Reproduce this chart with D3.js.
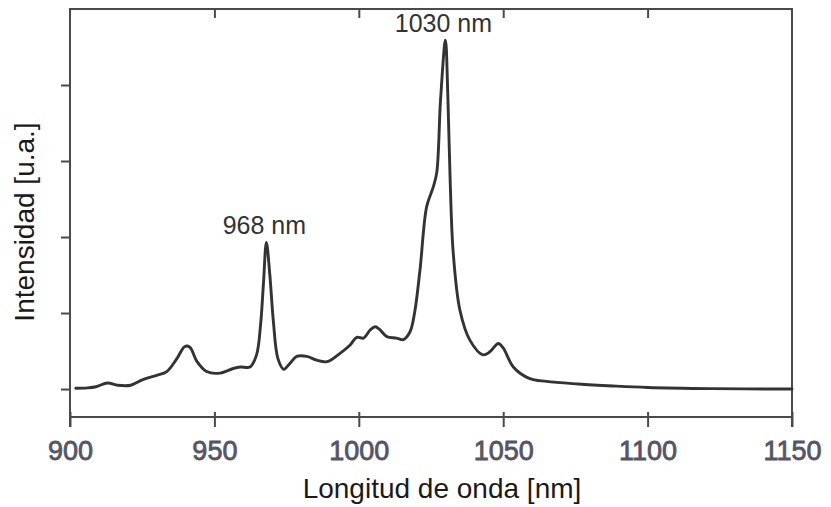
<!DOCTYPE html>
<html>
<head>
<meta charset="utf-8">
<script src="https://cdn.jsdelivr.net/npm/d3@7"></script>
<style>
  html, body { margin: 0; padding: 0; background: #fff; }
  svg { display: block; font-family: "Liberation Sans", Arial, sans-serif; }
</style>
</head>
<body>
<svg id="chart" width="831" height="507"></svg>
<script>
// Emission spectrum: wavelength (nm) and relative intensity (a.u.)
const wavelength = [
  902, 906, 909, 913, 916.5, 921, 925, 930, 933.5, 937, 939.8, 941.5, 944, 947.3,
  952, 956.5, 959, 962.3, 964.6, 966, 967, 968, 969.2, 970.4, 972, 974, 976.2,
  978.5, 982, 985.4, 989, 993.5, 997, 999.3, 1001.6, 1004, 1005.7, 1007.3, 1009.7,
  1013, 1015.4, 1017.7, 1019.3, 1021.2, 1023.5, 1025.8, 1027, 1028.3, 1030, 1030.8,
  1031.7, 1032.7, 1035, 1038.5, 1043, 1045.4, 1048.3, 1050, 1053.5, 1059, 1065,
  1076, 1088, 1100, 1122, 1150
];
const intensity = [
  0.01, 0.015, 0.03, 0.08, 0.05, 0.05, 0.12, 0.18, 0.23, 0.40, 0.56, 0.55, 0.36, 0.23,
  0.21, 0.27, 0.29, 0.29, 0.45, 0.85, 1.40, 1.93, 1.50, 0.90, 0.40, 0.26, 0.34,
  0.43, 0.43, 0.38, 0.36, 0.47, 0.58, 0.68, 0.67, 0.78, 0.82, 0.78, 0.69,
  0.67, 0.65, 0.75, 1.00, 1.57, 2.40, 2.66, 2.85, 3.80, 4.59, 3.90,
  2.66, 1.79, 1.04, 0.64, 0.45, 0.49, 0.60, 0.54, 0.29, 0.14, 0.10,
  0.066, 0.04, 0.02, 0.005, 0.0
];

// Labelled peaks
const peakNm = [968, 1030];
const peakLabels = ["968 nm", "1030 nm"];

// Axis ticks
const xTicks = [900, 950, 1000, 1050, 1100, 1150];
const yTicks = [0, 1, 2, 3, 4];

const xTitle = "Longitud de onda [nm]";
const yTitle = "Intensidad [u.a.]";

const svg = d3.select("#chart");
const plotLeft = 70, plotRight = 792, plotTop = 9, plotBottom = 417;

const x = d3.scaleLinear().domain([900, 1150]).range([plotLeft, plotRight]);
const y = d3.scaleLinear().domain([-0.368, 5]).range([plotBottom, plotTop]);

const frameColor = "#4a4a4a";
const tickLabelColor = "#555566";

// Bottom axis: ticks cross the axis line
const gx = svg.append("g")
  .attr("transform", `translate(0,${plotBottom})`)
  .call(d3.axisBottom(x).tickValues(xTicks).tickFormat(d3.format("d"))
    .tickSize(10).tickPadding(14).tickSizeOuter(0));
gx.select(".domain").remove();
gx.selectAll(".tick line")
  .attr("y1", -5).attr("y2", 10)
  .attr("stroke", frameColor).attr("stroke-width", 2);
gx.selectAll(".tick text")
  .attr("fill", tickLabelColor)
  .attr("font-size", 27)
  .attr("stroke", tickLabelColor).attr("stroke-width", 0.8)
  .attr("font-family", "Liberation Sans, Arial, sans-serif");

// Top axis: inward ticks, no labels
const gt = svg.append("g")
  .attr("transform", `translate(0,${plotTop})`)
  .call(d3.axisBottom(x).tickValues(xTicks.slice(1, -1)).tickSize(9).tickFormat(""));
gt.select(".domain").remove();
gt.selectAll(".tick line").attr("stroke", frameColor).attr("stroke-width", 2);

// Left axis: outward ticks, no labels
const gy = svg.append("g")
  .attr("transform", `translate(${plotLeft},0)`)
  .call(d3.axisLeft(y).tickValues(yTicks).tickSize(9).tickFormat(""));
gy.select(".domain").remove();
gy.selectAll(".tick line").attr("stroke", frameColor).attr("stroke-width", 2);

// Frame
svg.append("rect")
  .attr("x", plotLeft).attr("y", plotTop)
  .attr("width", plotRight - plotLeft).attr("height", plotBottom - plotTop)
  .attr("fill", "none").attr("stroke", frameColor).attr("stroke-width", 2);
// Frame sides run a little below the bottom axis line
[plotLeft, plotRight].forEach(px => {
  svg.append("line")
    .attr("x1", px).attr("x2", px)
    .attr("y1", plotBottom).attr("y2", plotBottom + 10)
    .attr("stroke", frameColor).attr("stroke-width", 2);
});

// Spectrum line
const pts = wavelength.map((w, i) => [w, intensity[i]]);
const line = d3.line()
  .x(d => x(d[0]))
  .y(d => y(d[1]))
  .curve(d3.curveCatmullRom.alpha(0.5));

svg.append("path")
  .datum(pts)
  .attr("d", line)
  .attr("fill", "none")
  .attr("stroke", "#333")
  .attr("stroke-width", 2.9)
  .attr("stroke-linejoin", "round")
  .attr("stroke-linecap", "round");

// Peak labels
peakNm.forEach((nm, i) => {
  const v = intensity[wavelength.indexOf(nm)];
  svg.append("text")
    .attr("x", x(nm) - 2)
    .attr("y", y(v) - 8)
    .attr("text-anchor", "middle")
    .attr("font-size", 25)
    .attr("fill", "#333")
    .text(peakLabels[i]);
});

// Axis titles
svg.append("text")
  .attr("x", 442).attr("y", 498)
  .attr("text-anchor", "middle")
  .attr("font-size", 28)
  .attr("fill", "#1a1a1a")
  .text(xTitle);

svg.append("text")
  .attr("transform", "translate(34,222) rotate(-90)")
  .attr("text-anchor", "middle")
  .attr("font-size", 28)
  .attr("fill", "#1a1a1a")
  .text(yTitle);
</script>
</body>
</html>
